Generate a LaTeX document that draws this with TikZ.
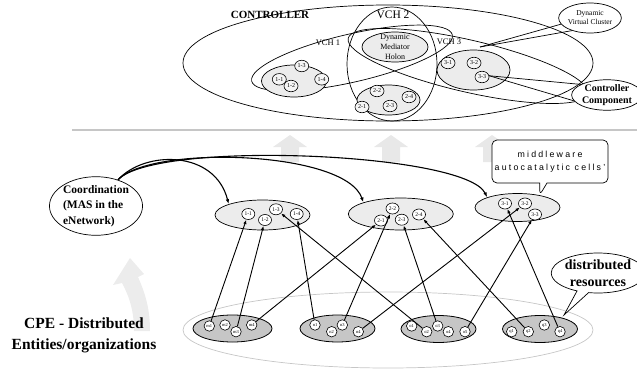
\documentclass[tikz,border=0pt]{standalone}
\usepackage{fontspec}
\setmainfont{Liberation Serif}
\newfontfamily\mwfont[LetterSpace=25]{Liberation Sans}
\usetikzlibrary{shapes.geometric,shapes.callouts,arrows.meta}
\begin{document}
\begin{tikzpicture}[x=1pt,y=-1pt,
  ell/.style={ellipse,draw,line width=0.7pt,inner sep=0pt},
  grp/.style={ellipse,draw,line width=0.7pt,fill=gray!15,inner sep=0pt},
  bgrp/.style={ellipse,draw,line width=0.8pt,fill=gray!45,inner sep=0pt,minimum height=27},
  tc/.style={ellipse,draw,line width=0.6pt,fill=gray!8,inner sep=0pt,minimum width=14,minimum height=11.5,font=\fontsize{6}{6}\selectfont},
  mc/.style={ellipse,draw,line width=0.6pt,fill=white,inner sep=0pt,minimum width=13,minimum height=11,font=\fontsize{5.5}{6}\selectfont},
  bc/.style={circle,draw,line width=0.6pt,fill=white,inner sep=0pt,minimum size=10.5,font=\fontsize{4.5}{5}\selectfont},
  conn/.style={line width=0.9pt,-{Latex[length=4.5pt,width=3.2pt]}},
  carr/.style={line width=1.1pt,-{Latex[length=5pt,width=3.5pt]}},
  cline/.style={line width=0.7pt},
]
\useasboundingbox (0,0) rectangle (637,372);

% ---------------- top: controller ----------------
\node[ell,minimum width=410,minimum height=116] (ctrl) at (388,63) {};
\node[grp,minimum width=66,minimum height=30] (dmh) at (395,47) {};
\node[font=\fontsize{8}{10}\selectfont,align=center] (dmht) at (395,47) {Dynamic\\Mediator\\Holon};
\node[ell,minimum width=206,minimum height=48,rotate=13] (vch1) at (352,58) {};
\node[ell,minimum width=246,minimum height=52,rotate=-13] (vch3) at (468,66) {};
\node[ell,minimum width=90,minimum height=114] (vch2) at (392,64) {};

\node[grp,minimum width=65,minimum height=32] (t1) at (294,81) {};
\node[grp,minimum width=63,minimum height=30] (t2) at (388.5,100) {};
\node[grp,minimum width=73,minimum height=40] (t3) at (473.5,70) {};

\node[tc] (a11) at (279.3,79.3) {1-1};
\node[tc] (a12) at (291,86) {1-2};
\node[tc] (a13) at (301.7,66) {1-3};
\node[tc] (a14) at (321.7,79.3) {1-4};
\node[tc] (a22) at (377,91) {2-2};
\node[tc] (a21) at (362,107) {2-1};
\node[tc] (a23) at (390,106) {2-3};
\node[tc] (a24) at (409,97) {2-4};
\node[tc] (a31) at (448,63) {3-1};
\node[tc] (a32) at (474,63) {3-2};
\node[tc] (a33) at (482,77) {3-3};

\node[font=\bfseries\fontsize{11}{12}\selectfont] (ctrlt) at (270,15) {CONTROLLER};
\node[font=\fontsize{11.5}{13}\selectfont] (vch2t) at (393,15) {VCH 2};
\node[font=\fontsize{8.5}{10}\selectfont] (vch1t) at (328,43) {VCH 1};
\node[font=\fontsize{8.5}{10}\selectfont] (vch3t) at (449,42) {VCH 3};

\node[ell,fill=white,minimum width=60,minimum height=30,font=\fontsize{7.5}{9}\selectfont,align=center] (dvc) at (590,18) {Dynamic\\Virtual Cluster};
\coordinate (dvcap) at (480,47);
\draw[cline] (dvcap) -- (dvc.192);
\draw[cline] (dvcap) -- (dvc.215);

\node[ell,fill=white,minimum width=62,minimum height=30,font=\bfseries\fontsize{10}{12.5}\selectfont,align=center] (cc) at (607,95) {Controller\\Component};
\draw[cline] (a33.10) -- (cc.158);
\draw[cline] (a33.10) -- (cc.190);

% ---------------- separator and up arrows ----------------
\draw[gray!45,line width=1.5pt] (72,130) -- (637,130);
\foreach \cx in {290,391,492}{
  \fill[gray!18] (\cx-9,162) -- (\cx-9,147) -- (\cx-17,147) -- (\cx,135) -- (\cx+17,147) -- (\cx+9,147) -- (\cx+9,162) -- cycle;
}

% ---------------- middle ----------------
\node[ell,minimum width=70,minimum height=58,align=left,font=\bfseries\fontsize{11.5}{15.5}\selectfont] (coord) at (96,206) {Coordination\\(MAS in the\\eNetwork)};

\node[grp,minimum width=95,minimum height=30] (g1) at (262.5,215) {};
\node[grp,minimum width=105,minimum height=32] (g2) at (400.8,214) {};
\node[grp,minimum width=85,minimum height=28] (g3) at (517.5,207.5) {};

\node[mc] (c11) at (248.3,214) {1-1};
\node[mc] (c12) at (265,220) {1-2};
\node[mc] (c13) at (276,209.3) {1-3};
\node[mc] (c14) at (296.7,214) {1-4};
\node[mc] (c22) at (392.5,208.5) {2-2};
\node[mc] (c21) at (381,220.5) {2-1};
\node[mc] (c23) at (401.7,219.7) {2-3};
\node[mc] (c24) at (419,214.5) {2-4};
\node[mc] (c31) at (505,203.5) {3-1};
\node[mc] (c32) at (525,203.5) {3-2};
\node[mc] (c33) at (535,214.5) {3-3};

\draw[carr] (coord.50) .. controls (145,150) and (215,150) .. (g1.north west);
\draw[carr] (coord.50) .. controls (150,145) and (345,150) .. (g2.north west);
\draw[carr] (coord.50) .. controls (155,140) and (465,152) .. (g3.north west);

\node[rectangle callout,draw,line width=0.7pt,fill=white,rounded corners=5pt,minimum width=116,minimum height=43,inner sep=0pt,
  callout absolute pointer={(g3.29)},font=\mwfont\fontsize{8.8}{13}\selectfont,align=center] (mw) at (550,161.5) {middleware\\autocatalytic cells’};

% ---------------- bottom ----------------
\fill[gray!15] (130,258) -- (144,274) -- (138,277) .. controls (146,295) and (150,310) .. (150,331) -- (134,331) .. controls (134,312) and (130,298) .. (122,283) -- (113,285) -- cycle;

\node[ell,draw=gray!45,minimum width=410,minimum height=76] (dom) at (388,330) {};

\node[bgrp,minimum width=79] (b1) at (232.5,328.5) {};
\node[bgrp,minimum width=75] (b2) at (337.5,328.5) {};
\node[bgrp,minimum width=75] (b3) at (438.5,329) {};
\node[bgrp,minimum width=75] (b4) at (540,329) {};

\node[bc] (m1) at (209.3,326) {m1};
\node[bc] (m2) at (225,325) {m2};
\node[bc] (m3) at (236,331.7) {m3};
\node[bc] (m4) at (251.7,325) {m4};
\node[bc] (n1) at (315,325) {n1};
\node[bc] (n2) at (331.7,331.7) {n2};
\node[bc] (n3) at (342.3,325) {n3};
\node[bc] (n4) at (358.3,331.7) {n4};
\node[bc] (o1) at (411.7,326) {o1};
\node[bc] (o2) at (426.7,331.7) {o2};
\node[bc] (o3) at (437.7,326) {o3};
\node[bc] (o4) at (448.3,331.7) {o4};
\node[bc] (o5) at (465,331.7) {o5};
\node[bc] (q1) at (511.7,331.7) {q1};
\node[bc] (q2) at (528.3,331.7) {q2};
\node[bc] (q3) at (544.3,325) {q3};
\node[bc] (q4) at (560,331.7) {q4};

\draw[conn] (m1) -- (c11);
\draw[conn] (m3) -- (c12);
\draw[conn] (m4) -- (c21);
\draw[conn] (n1) -- (c14);
\draw[conn] (n3) -- (c22);
\draw[conn] (n4) -- (c32);
\draw[conn] (o2) -- (c13);
\draw[conn] (o3) -- (c23);
\draw[conn] (o5) -- (c33);
\draw[conn] (q2) -- (c24);
\draw[conn] (q4) -- (c31);

\coordinate (drp) at (564,315);
\node[ellipse callout,draw,line width=0.7pt,fill=white,minimum width=76,minimum height=40,inner sep=0pt,
  callout absolute pointer={(drp)},font=\bfseries\fontsize{14}{16.5}\selectfont,align=center] (dr) at (598,273) {distributed\\resources};

\node[font=\bfseries\fontsize{15.5}{21}\selectfont,align=center] (cpe) at (84,335.5) {CPE - Distributed\\Entities/organizations};
\end{tikzpicture}
\end{document}
